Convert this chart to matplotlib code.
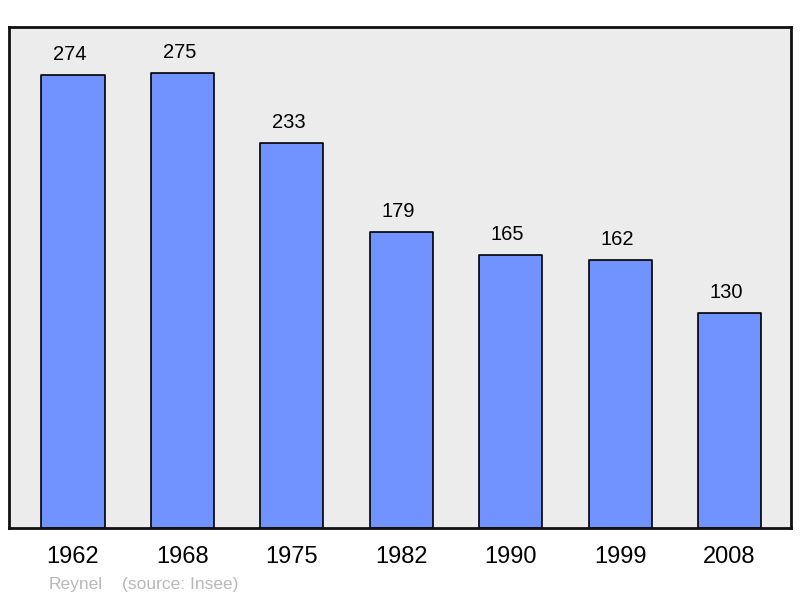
import matplotlib.pyplot as plt

plt.rcParams['font.family'] = ['Liberation Sans', 'DejaVu Sans']

# Données
annees = ['1962', '1968', '1975', '1982', '1990', '1999', '2008']
population = [274, 275, 233, 179, 165, 162, 130]

fig = plt.figure(figsize=(8, 5.98), dpi=100)
ax = fig.add_axes([9/800, 70/598, 782/800, 501/598])
ax.set_facecolor('#ececec')

x = range(len(annees))
bars = ax.bar(x, population, width=0.576, color='#7093ff', edgecolor='black',
              linewidth=1.2, joinstyle='round')

# Valeurs au-dessus des barres
for xi, v in zip(x, population):
    ax.annotate(str(v), (xi, v), xytext=(-2.2, 8), textcoords='offset points',
                ha='center', va='bottom', fontsize=14.5)

ax.set_xlim(-0.585, 6.562)
ax.set_ylim(0, 303)
ax.set_xticks(list(x))
ax.set_xticklabels(annees, fontsize=17)
ax.tick_params(axis='x', length=0, pad=13)
ax.set_yticks([])
for s in ax.spines.values():
    s.set_linewidth(2)
    s.set_color('#111111')

fig.text(49/800, 1 - 584/598, 'Reynel', color='#b8b8b8', fontsize=12.5, va='center')
fig.text(122/800, 1 - 584/598, '(source: Insee)', color='#b8b8b8', fontsize=12.5, va='center')

fig.savefig('out.png', dpi=100)
